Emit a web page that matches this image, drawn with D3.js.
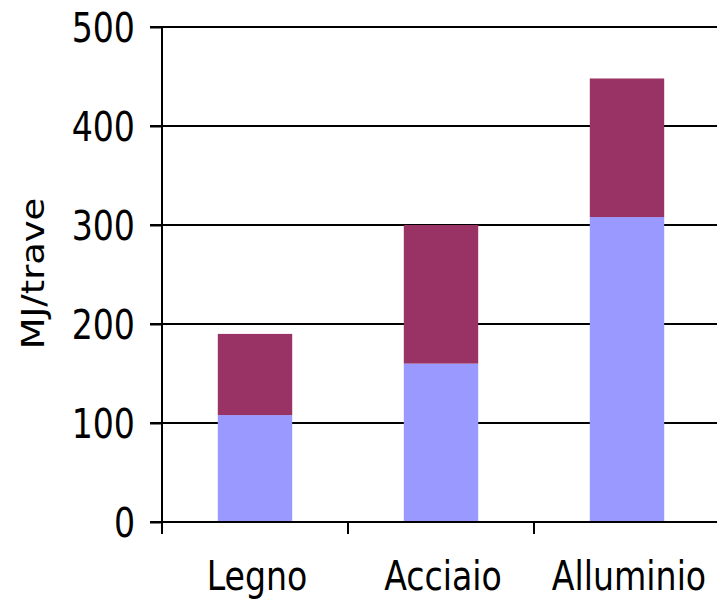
<!DOCTYPE html>
<html>
<head>
<meta charset="utf-8">
<script src="https://cdn.jsdelivr.net/npm/d3@7"></script>
<style>
  html, body { margin: 0; padding: 0; background: #fff; }
  svg { display: block; }
  text { font-family: "DejaVu Sans", Verdana, sans-serif; fill: #000; }
</style>
</head>
<body>
<svg id="chart" width="717" height="600"></svg>
<script>
// Embodied energy per beam, split into two stacked components
const categories = ["Legno", "Acciaio", "Alluminio"];
const seriesLower = [108, 160, 308];
const seriesUpper = [82, 140, 140];
const yTicks = [0, 100, 200, 300, 400, 500];
const yLabel = "MJ/trave";
const colors = ["#9999FF", "#993366"];

// Type is narrow and tall: labels are squeezed horizontally
const textScaleX = 0.83;
const labelSize = 40;

const svg = d3.select("#chart");
const margin = { left: 162, top: 27, right: -3, bottom: 78 };
const width = 717 - margin.left - margin.right;
const height = 600 - margin.top - margin.bottom;

const g = svg.append("g").attr("transform", `translate(${margin.left},${margin.top})`);

const x = d3.scaleBand().domain(categories).range([0, width]).paddingInner(0.6).paddingOuter(0.3);
const y = d3.scaleLinear().domain([0, 500]).range([height, 0]);

// Horizontal gridlines
g.append("g").selectAll("line").data(yTicks).join("line")
  .attr("x1", -12).attr("x2", width)
  .attr("y1", d => Math.round(y(d))).attr("y2", d => Math.round(y(d)))
  .attr("stroke", "#000").attr("stroke-width", 2);

// Stacked bars
const rows = categories.map((c, i) => ({ cat: c, lower: seriesLower[i], upper: seriesUpper[i] }));
const stack = d3.stack().keys(["lower", "upper"])(rows);
g.append("g").selectAll("g").data(stack).join("g")
  .attr("fill", (d, i) => colors[i])
  .selectAll("rect").data(d => d).join("rect")
  .attr("x", d => x(d.data.cat))
  .attr("width", x.bandwidth())
  .attr("y", d => y(d[1]))
  .attr("height", d => y(d[0]) - y(d[1]));

// Y axis
const yAxis = g.append("g")
  .call(d3.axisLeft(y).tickValues(yTicks).tickSize(12));
yAxis.select(".domain").remove();
yAxis.selectAll(".tick line").attr("stroke-width", 2);
yAxis.selectAll(".tick text")
  .style("font-size", labelSize + "px")
  .attr("x", -27 / textScaleX)
  .attr("dy", "0.36em")
  .attr("transform", `scale(${textScaleX},1)`);
g.append("line")
  .attr("x1", 0).attr("x2", 0).attr("y1", 0).attr("y2", height + 12)
  .attr("stroke", "#000").attr("stroke-width", 2);

// X axis: ticks at category boundaries, labels centred below
const step = x.step();
const boundaries = d3.range(categories.length + 1).map(i => i * step);
g.append("g").selectAll("line").data(boundaries).join("line")
  .attr("x1", d => Math.round(d)).attr("x2", d => Math.round(d))
  .attr("y1", height).attr("y2", height + 12)
  .attr("stroke", "#000").attr("stroke-width", 2);
g.append("line")
  .attr("x1", 0).attr("x2", width).attr("y1", height).attr("y2", height)
  .attr("stroke", "#000").attr("stroke-width", 2);
g.append("g").selectAll("text").data(categories).join("text")
  .attr("transform", d => `translate(${x(d) + x.bandwidth() / 2 + 2},${height + 68}) scale(${textScaleX},1)`)
  .attr("text-anchor", "middle")
  .style("font-size", labelSize + "px")
  .text(d => d);

// Y axis title
svg.append("text")
  .attr("transform", `translate(44,${margin.top + height / 2 - 1}) scale(1,1.15) rotate(-90)`)
  .attr("text-anchor", "middle")
  .style("font-size", "32px")
  .text(yLabel);
</script>
</body>
</html>
